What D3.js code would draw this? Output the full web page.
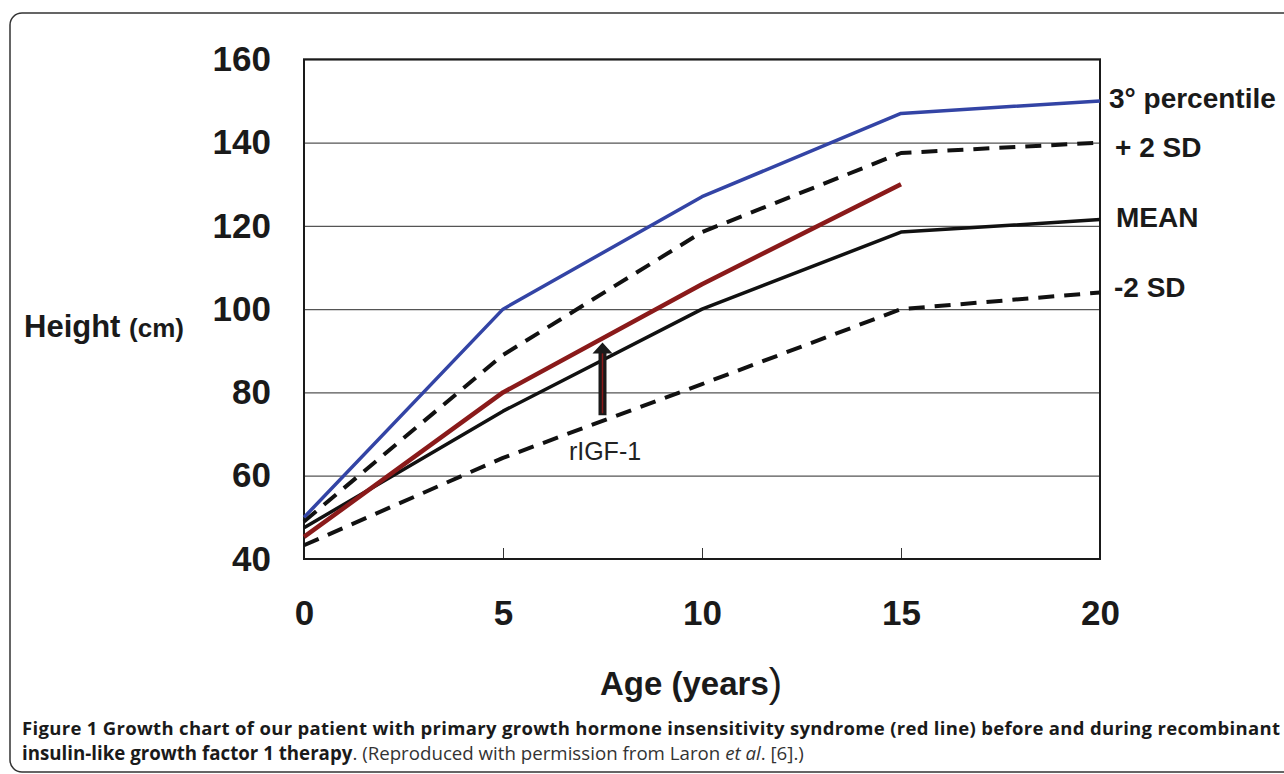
<!DOCTYPE html>
<html>
<head>
<meta charset="utf-8">
<script src="https://cdn.jsdelivr.net/npm/d3@7"></script>
<style>
  html, body { margin: 0; padding: 0; background: #fff; }
  svg { display: block; }
</style>
</head>
<body>
<div id="container"></div>
<script>
const ages = [0, 5, 10, 15, 20];
const percentile3 = [50, 100, 127, 147, 150];
const plus2SD = [49, 89, 118.5, 137.5, 140];
const meanHeight = [47.5, 75.5, 100, 118.5, 121.5];
const minus2SD = [43.3, 64.3, 82, 100, 104];
const patientAges = [0, 5, 10, 15];
const patientHeight = [45.3, 80, 106, 130];
const yTicks = [40, 60, 80, 100, 120, 140, 160];
const xTicks = [0, 5, 10, 15, 20];
const arrowAge = 7.5;
const arrowFrom = 74.5;
const arrowTo = 92;

const width = 1284;
const height = 774;

const x = d3.scaleLinear().domain([0, 20]).range([304, 1100]);
const y = d3.scaleLinear().domain([40, 160]).range([559, 59.3]);

const svg = d3.create("svg").attr("width", width).attr("height", height);

// outer frame
svg.append("rect")
  .attr("x", 10).attr("y", 13)
  .attr("width", 1300).attr("height", 759)
  .attr("rx", 12)
  .attr("fill", "none")
  .attr("stroke", "#333")
  .attr("stroke-width", 1.5);

// gridlines
svg.append("g")
  .attr("transform", `translate(${x(0)},0)`)
  .call(d3.axisLeft(y).tickValues(yTicks).tickSize(-(x(20) - x(0))).tickFormat(""))
  .call((g) => g.select(".domain").remove())
  .call((g) => g.selectAll("line").attr("stroke", "#555").attr("stroke-width", 1.2));

// y tick labels
svg.append("g")
  .attr("transform", `translate(${x(0)},0)`)
  .call(d3.axisLeft(y).tickValues(yTicks).tickSize(0).tickPadding(33))
  .call((g) => g.select(".domain").remove())
  .call((g) => g.selectAll("text")
    .attr("font-family", "Liberation Sans, Arial, sans-serif")
    .attr("font-size", 35)
    .attr("font-weight", "bold")
    .attr("fill", "#1a1a1a"));

// x ticks and labels
svg.append("g")
  .attr("transform", `translate(0,${y(40)})`)
  .call(d3.axisBottom(x).tickValues(xTicks).tickSize(-11).tickPadding(41))
  .call((g) => g.select(".domain").remove())
  .call((g) => g.selectAll("line").attr("stroke", "#333").attr("stroke-width", 1))
  .call((g) => g.selectAll("text")
    .attr("font-family", "Liberation Sans, Arial, sans-serif")
    .attr("font-size", 35)
    .attr("font-weight", "bold")
    .attr("fill", "#1a1a1a"));

// plot border
svg.append("rect")
  .attr("x", x(0)).attr("y", y(160))
  .attr("width", x(20) - x(0)).attr("height", y(40) - y(160))
  .attr("fill", "none")
  .attr("stroke", "#1a1a1a")
  .attr("stroke-width", 2);

const line = d3.line().x((d) => x(d[0])).y((d) => y(d[1]));
const pairs = (xs, ys) => xs.map((a, i) => [a, ys[i]]);

const series = [
  { values: pairs(ages, minus2SD), color: "#111", width: 4, dash: "16,10" },
  { values: pairs(ages, meanHeight), color: "#111", width: 3.5, dash: null },
  { values: pairs(ages, plus2SD), color: "#111", width: 4, dash: "16,10" },
  { values: pairs(ages, percentile3), color: "#3344a5", width: 3.5, dash: null },
  { values: pairs(patientAges, patientHeight), color: "#8a1a1a", width: 4.5, dash: null },
];

svg.append("g")
  .selectAll("path")
  .data(series)
  .join("path")
  .attr("d", (d) => line(d.values))
  .attr("fill", "none")
  .attr("stroke", (d) => d.color)
  .attr("stroke-width", (d) => d.width)
  .attr("stroke-dasharray", (d) => d.dash)
  .attr("stroke-linejoin", "round");

// rIGF-1 arrow
const ax = x(arrowAge);
const headBase = y(arrowTo) + 11;
const arrow = svg.append("g");
arrow.append("path")
  .attr("d", `M${ax - 4},${y(arrowFrom)} L${ax - 4},${headBase} L${ax - 10},${headBase} L${ax},${y(arrowTo)} L${ax + 10},${headBase} L${ax + 4},${headBase} L${ax + 4},${y(arrowFrom)} Z`)
  .attr("fill", "#1a1a1a");
arrow.append("line")
  .attr("x1", ax).attr("x2", ax)
  .attr("y1", y(arrowFrom) - 2).attr("y2", headBase)
  .attr("stroke", "#8a1a1a")
  .attr("stroke-width", 1.5);

svg.append("text")
  .attr("x", 605).attr("y", 460)
  .attr("text-anchor", "middle")
  .attr("font-family", "Liberation Sans, Arial, sans-serif")
  .attr("font-size", 25)
  .attr("fill", "#222")
  .text("rIGF-1");

// series labels on the right
const labels = [
  { text: "3° percentile", x: 1109, y: 108 },
  { text: "+ 2 SD", x: 1115, y: 157 },
  { text: "MEAN", x: 1116, y: 227 },
  { text: "-2 SD", x: 1114, y: 297 },
];
svg.append("g")
  .selectAll("text")
  .data(labels)
  .join("text")
  .attr("x", (d) => d.x)
  .attr("y", (d) => d.y)
  .attr("font-family", "Liberation Sans, Arial, sans-serif")
  .attr("font-size", 28)
  .attr("font-weight", "bold")
  .attr("fill", "#1a1a1a")
  .text((d) => d.text);

// axis titles
const yTitle = svg.append("text")
  .attr("x", 24).attr("y", 337)
  .attr("font-family", "Liberation Sans, Arial, sans-serif")
  .attr("font-weight", "bold")
  .attr("fill", "#1a1a1a");
yTitle.append("tspan").attr("font-size", 31).text("Height ");
yTitle.append("tspan").attr("font-size", 26).text("(cm)");

const xTitle = svg.append("text")
  .attr("x", 600).attr("y", 695)
  .attr("font-family", "Liberation Sans, Arial, sans-serif")
  .attr("font-weight", "bold")
  .attr("font-size", 33)
  .attr("fill", "#1a1a1a");
xTitle.append("tspan").text("Age (years");
xTitle.append("tspan").attr("font-weight", "normal").attr("font-size", 40).attr("dy", 2).text(")");

// caption
const capFont = "Open Sans, Noto Sans, sans-serif";
svg.append("text")
  .attr("x", 22).attr("y", 735)
  .attr("font-family", capFont)
  .attr("font-size", 18.5)
  .attr("font-weight", "bold")
  .attr("fill", "#1a1a1a")
  .attr("textLength", 1258)
  .attr("lengthAdjust", "spacing")
  .text("Figure 1 Growth chart of our patient with primary growth hormone insensitivity syndrome (red line) before and during recombinant");

const cap2 = svg.append("text")
  .attr("x", 22).attr("y", 760)
  .attr("font-family", capFont)
  .attr("font-size", 18.7)
  .attr("fill", "#333");
cap2.append("tspan").attr("font-weight", "bold").attr("fill", "#1a1a1a").text("insulin-like growth factor 1 therapy");
cap2.append("tspan").text(". (Reproduced with permission from Laron ");
cap2.append("tspan").attr("font-style", "italic").text("et al");
cap2.append("tspan").text(". [6].)");

d3.select("#container").append(() => svg.node());
</script>
</body>
</html>
